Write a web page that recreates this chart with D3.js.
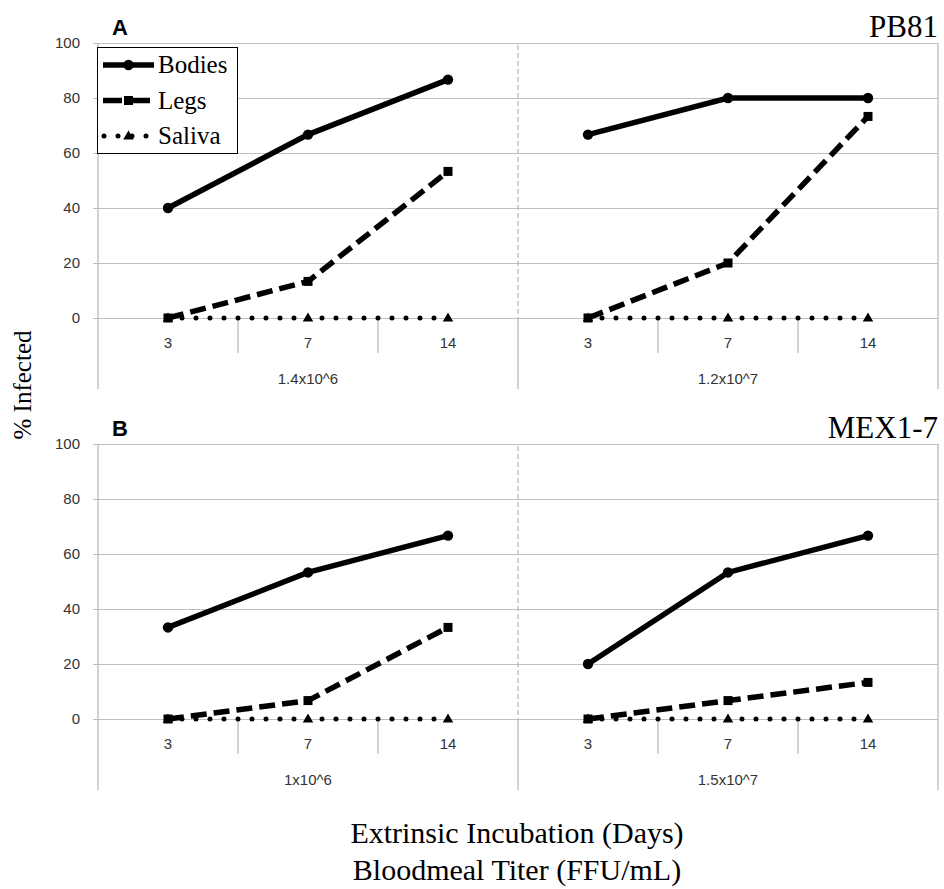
<!DOCTYPE html>
<meta charset="utf-8">
<style>
body { margin: 0; background: #fff; }
.grid line { stroke: #bfbfbf; stroke-width: 1px; }
.grid text { font: 15px "Liberation Sans", sans-serif; fill: #333; }
.cat { font: 15px "Liberation Sans", sans-serif; fill: #333; }
.serif { font-family: "Liberation Serif", "Times New Roman", serif; fill: #000; }
.frame { stroke: #bababa; stroke-width: 1.3px; fill: none; }
</style>
<body>
<script src="https://d3js.org/d3.v7.min.js"></script>
<script>

const width = 944;
const height = 889;

// data (% infected)
const days = ["3", "7", "14"];
const yTicks = [0, 20, 40, 60, 80, 100];

const titersA = ["1.4x10^6", "1.2x10^7"];
const bodiesA = [[40, 66.7, 86.7], [66.7, 80, 80]];
const legsA = [[0, 13.3, 53.3], [0, 20, 73.3]];
const salivaA = [[0, 0, 0], [0, 0, 0]];

const titersB = ["1x10^6", "1.5x10^7"];
const bodiesB = [[33.3, 53.3, 66.7], [20, 53.3, 66.7]];
const legsB = [[0, 6.7, 33.3], [0, 6.7, 13.3]];
const salivaB = [[0, 0, 0], [0, 0, 0]];

const seriesNames = ["Bodies", "Legs", "Saliva"];

const panels = [
  {label: "A", strain: "PB81", titers: titersA, series: [bodiesA, legsA, salivaA], top: 43},
  {label: "B", strain: "MEX1-7", titers: titersB, series: [bodiesB, legsB, salivaB], top: 444}
];

const styles = [
  {width: 5.5, dash: null, cap: "butt", marker: "circle"},
  {width: 5.5, dash: "16,7", cap: "butt", marker: "square"},
  {width: 5, dash: "0,14", cap: "round", marker: "triangle"}
];

const left = 98, right = 938, plotH = 275;

const svg = d3.select("body").append("svg")
    .attr("width", width)
    .attr("height", height);

function drawMarker(g, type, x, y) {
  if (type === "circle") {
    g.append("circle").attr("cx", x).attr("cy", y).attr("r", 5.2).attr("fill", "#000");
  } else if (type === "square") {
    g.append("rect").attr("x", x - 4.5).attr("y", y - 4.5)
        .attr("width", 9).attr("height", 9).attr("fill", "#000");
  } else {
    g.append("path")
        .attr("d", d3.symbol(d3.symbolTriangle, 48)())
        .attr("transform", `translate(${x},${y + 0.5})`)
        .attr("fill", "#000");
  }
}

panels.forEach(function(p) {
  const g = svg.append("g");
  const y = d3.scaleLinear().domain([0, 100]).range([p.top + plotH, p.top]);

  // one band per (titer, day) slot
  const slots = [];
  p.titers.forEach((t, gi) => days.forEach(d => slots.push(gi + "|" + d)));
  const x = d3.scaleBand().domain(slots).range([left, right]);
  const xc = (gi, d) => x(gi + "|" + d) + x.bandwidth() / 2;
  const groupW = x.bandwidth() * days.length;
  const y0 = y(0);

  // gridlines + y labels
  g.append("g")
      .attr("class", "grid")
      .attr("transform", `translate(${left - 5},0)`)
      .call(d3.axisLeft(y).tickValues(yTicks).tickSize(-(right - left + 5)).tickPadding(13))
      .call(a => a.select(".domain").remove());

  // frame sides
  g.append("line").attr("class", "frame")
      .attr("x1", left).attr("x2", left).attr("y1", y(100)).attr("y2", y0 + 71);
  g.append("line").attr("class", "frame")
      .attr("x1", right).attr("x2", right).attr("y1", y(100)).attr("y2", y0 + 71);

  // group divider
  for (let gi = 1; gi < p.titers.length; gi++) {
    const xd = left + groupW * gi;
    g.append("line").attr("class", "frame")
        .attr("stroke", "#a8a8a8")
        .attr("stroke-dasharray", "5,3")
        .attr("x1", xd).attr("x2", xd).attr("y1", y(100) + 2).attr("y2", y0);
    g.append("line").attr("class", "frame")
        .attr("x1", xd).attr("x2", xd).attr("y1", y0).attr("y2", y0 + 71);
  }

  // category ticks, labels, group labels
  p.titers.forEach(function(t, gi) {
    days.forEach(function(d, di) {
      if (di > 0) {
        const xt = x(gi + "|" + d);
        g.append("line").attr("class", "frame")
            .attr("x1", xt).attr("x2", xt).attr("y1", y0).attr("y2", y0 + 35);
      }
      g.append("text").attr("class", "cat")
          .attr("x", xc(gi, d)).attr("y", y0 + 30)
          .attr("text-anchor", "middle").text(d);
    });
    g.append("text").attr("class", "cat")
        .attr("x", left + groupW * gi + groupW / 2).attr("y", y0 + 66)
        .attr("text-anchor", "middle").text(t);
  });

  // lines (saliva first so it sits underneath)
  const order = [2, 1, 0];
  order.forEach(function(si) {
    const st = styles[si];
    p.series[si].forEach(function(vals, gi) {
      const line = d3.line().x((v, i) => xc(gi, days[i])).y(v => y(v));
      g.append("path")
          .datum(vals)
          .attr("d", line)
          .attr("fill", "none")
          .attr("stroke", "#000")
          .attr("stroke-width", st.width)
          .attr("stroke-linecap", st.cap)
          .attr("stroke-dasharray", st.dash);
    });
  });
  order.forEach(function(si) {
    p.series[si].forEach(function(vals, gi) {
      vals.forEach((v, i) => drawMarker(g, styles[si].marker, xc(gi, days[i]), y(v)));
    });
  });

  // panel letter and strain name
  g.append("text")
      .attr("x", 112).attr("y", p.top - 8)
      .style("font", "bold 22px 'Liberation Sans', sans-serif")
      .text(p.label);
  g.append("text").attr("class", "serif")
      .attr("x", right).attr("y", p.top - 6)
      .attr("text-anchor", "end")
      .style("font-size", "31px")
      .text(p.strain);
});

// legend
const lg = svg.append("g");
lg.append("rect")
    .attr("x", 97.5).attr("y", 47.5).attr("width", 140).attr("height", 106)
    .attr("fill", "#fff").attr("stroke", "#000").attr("stroke-width", 1);
seriesNames.forEach(function(name, i) {
  const st = styles[i];
  const ly = 65 + i * 35.5;
  lg.append("line")
      .attr("x1", i === 2 ? 104 : 103).attr("x2", i === 2 ? 152 : 154)
      .attr("y1", ly).attr("y2", ly)
      .attr("stroke", "#000")
      .attr("stroke-width", st.width)
      .attr("stroke-linecap", st.cap)
      .attr("stroke-dasharray", i === 1 ? "19,9" : st.dash);
  drawMarker(lg, st.marker, 128.5, ly);
  lg.append("text").attr("class", "serif")
      .attr("x", 158).attr("y", ly + 8)
      .style("font-size", "25px")
      .text(name);
});

// axis titles
svg.append("text").attr("class", "serif")
    .attr("transform", "translate(31,385) rotate(-90)")
    .attr("text-anchor", "middle")
    .style("font-size", "25px")
    .text("% Infected");
svg.append("text").attr("class", "serif")
    .attr("x", 517).attr("y", 843)
    .attr("text-anchor", "middle")
    .style("font-size", "30px")
    .text("Extrinsic Incubation (Days)");
svg.append("text").attr("class", "serif")
    .attr("x", 517).attr("y", 880)
    .attr("text-anchor", "middle")
    .style("font-size", "30px")
    .text("Bloodmeal Titer (FFU/mL)");

</script>
</body>
